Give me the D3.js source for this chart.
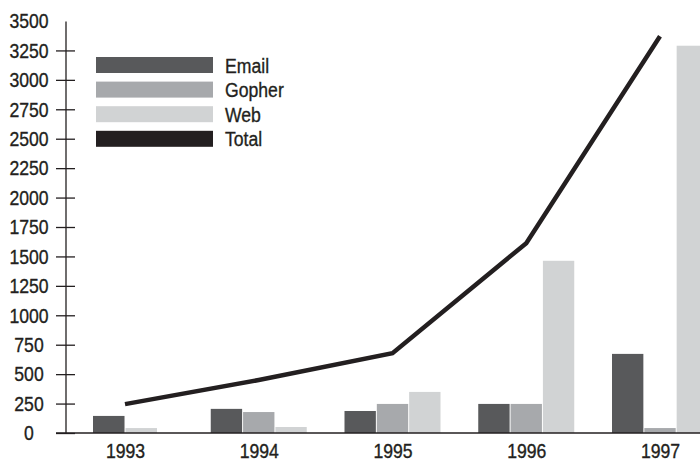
<!DOCTYPE html>
<html>
<head>
<meta charset="utf-8">
<script src="https://cdn.jsdelivr.net/npm/d3@7"></script>
<style>
    body { margin: 0; background: #fff; }
    svg text { font-family: "Liberation Sans", Arial, sans-serif; fill: #231f20; stroke: #231f20; stroke-width: 0.35; }
</style>
</head>
<body>
<script>
// Internet traffic by protocol, 1993-1997
const years = ["1993", "1994", "1995", "1996", "1997"];
const email = [145, 205, 187, 247, 672];
const gopher = [null, 178, 247, 247, 42];
const web = [42, 51, 349, 1463, 3290];
const total = [245, 450, 678, 1613, 3370];
const yTickValues = [0, 250, 500, 750, 1000, 1250, 1500, 1750, 2000, 2250, 2500, 2750, 3000, 3250, 3500];

const seriesNames = ["Email", "Gopher", "Web"];
const seriesValues = [email, gopher, web];
const legendNames = ["Email", "Gopher", "Web", "Total"];
const colors = {
    Email: "#58595b",
    Gopher: "#a7a9ac",
    Web: "#d1d3d4",
    Total: "#231f20",
};

const width = 700;
const height = 463;
const axisX = 65.5;
const baseY = 433;
const fontSize = 21;
const squeeze = 0.84; // condensed type look

const root = d3.select(document.body).append("svg")
    .attr("width", width)
    .attr("height", height);

const x = d3.scalePoint().domain(years).range([125, 660]);
const y = d3.scaleLinear().domain([0, 3500]).range([baseY, 21]);

const barStep = 32;

// bars: present series side by side, centred on the year
years.forEach((year, i) => {
    const present = seriesNames.filter((s, k) => seriesValues[k][i] != null);
    const inner = d3.scaleBand()
        .domain(present)
        .range([x(year) - present.length * barStep / 2, x(year) + present.length * barStep / 2])
        .paddingInner(0.03);
    root.append("g")
        .selectAll("rect")
        .data(present)
        .join("rect")
        .attr("x", s => inner(s))
        .attr("width", inner.bandwidth())
        .attr("y", s => y(seriesValues[seriesNames.indexOf(s)][i]))
        .attr("height", s => baseY - y(seriesValues[seriesNames.indexOf(s)][i]))
        .attr("fill", s => colors[s]);
});

// total line
const line = d3.line()
    .x((d, i) => x(years[i]))
    .y(d => y(d));
root.append("path")
    .datum(total)
    .attr("fill", "none")
    .attr("stroke", colors.Total)
    .attr("stroke-width", 4.5)
    .attr("d", line);

// y axis, ticks cross the line
const yAxis = root.append("g")
    .attr("transform", `translate(${axisX},0)`)
    .call(d3.axisLeft(y)
        .tickValues(yTickValues)
        .tickFormat(d3.format("d"))
        .tickSizeOuter(0)
        .tickSizeInner(9));
yAxis.select(".domain").attr("stroke", "#231f20").attr("stroke-width", 1.3);
yAxis.selectAll(".tick line")
    .attr("x1", -9.5).attr("x2", 9.5)
    .attr("stroke", "#231f20").attr("stroke-width", 1.3)
    .filter(d => d === 3500).remove();
yAxis.selectAll(".tick text")
    .attr("x", -36.5 / squeeze)
    .attr("transform", `scale(${squeeze},1)`)
    .attr("text-anchor", "middle")
    .attr("font-size", fontSize)
    .attr("font-family", null)
    .attr("fill", "#231f20");

// x axis
root.append("line")
    .attr("x1", 56).attr("x2", width)
    .attr("y1", baseY).attr("y2", baseY)
    .attr("stroke", "#231f20").attr("stroke-width", 1.3);
const xAxis = root.append("g")
    .attr("transform", `translate(0,${baseY})`)
    .call(d3.axisBottom(x).tickSize(0).tickPadding(11));
xAxis.select(".domain").remove();
xAxis.selectAll(".tick text")
    .attr("transform", `scale(${squeeze * 21 / 20},1)`)
    .attr("font-size", 20)
    .attr("font-family", null)
    .attr("fill", "#231f20");

// legend
const legend = root.append("g").attr("transform", "translate(96,57)");
const item = legend.selectAll("g")
    .data(legendNames)
    .join("g")
    .attr("transform", (d, i) => `translate(0,${i * 24.6})`);
item.append("rect")
    .attr("width", 117)
    .attr("height", 16)
    .attr("fill", d => colors[d]);
item.append("text")
    .attr("transform", `translate(129,8) scale(${squeeze},1)`)
    .attr("dy", "0.36em")
    .attr("font-size", fontSize)
    .text(d => d);
</script>
</body>
</html>
